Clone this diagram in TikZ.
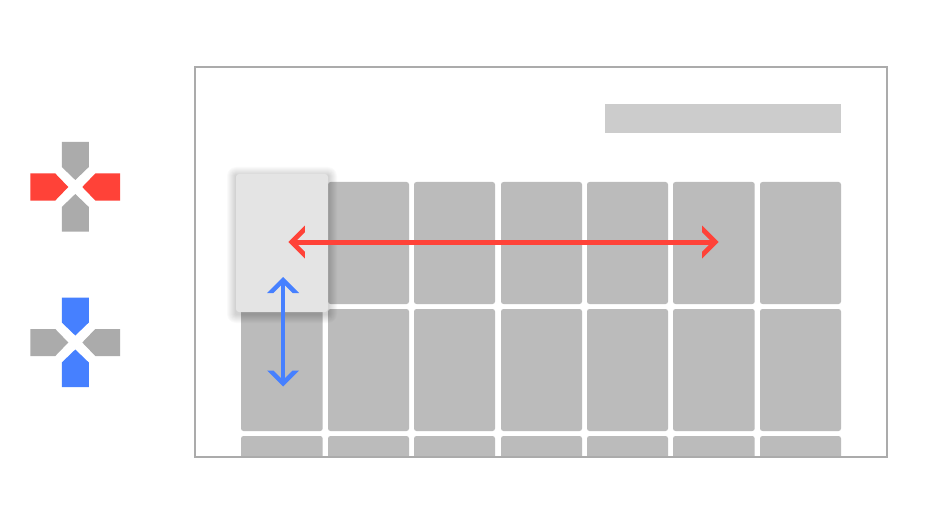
\documentclass[tikz,border=0pt]{standalone}
\definecolor{cellgray}{HTML}{BBBBBB}
\definecolor{bargray}{HTML}{CCCCCC}
\definecolor{framegray}{HTML}{ABABAB}
\definecolor{icongray}{HTML}{ABABAB}
\definecolor{cardgray}{HTML}{E4E4E4}
\definecolor{myred}{HTML}{FF4238}
\definecolor{myblue}{HTML}{4680FF}
\tikzset{
  cellbox/.style={fill=cellgray,rounded corners=2.5pt,inner sep=0pt,outer sep=0pt,anchor=north west,minimum height=122pt},
  redarrow/.style={draw=myred,line width=5pt},
  bluearrow/.style={draw=myblue,line width=4.8pt},
}
\newcommand{\dpad}[3]{%
  \begin{scope}[shift={(75.3,#1)}]
    \fill[#2] (-13.5,-45) -- (13.5,-45) -- (13.5,-20) -- (0,-7) -- (-13.5,-20) -- cycle;
    \fill[#2] (-13.5,44.5) -- (13.5,44.5) -- (13.5,20) -- (0,7) -- (-13.5,20) -- cycle;
    \fill[#3] (-45,-13.5) -- (-45,13.5) -- (-20,13.5) -- (-7,0) -- (-20,-13.5) -- cycle;
    \fill[#3] (44.7,-13.5) -- (44.7,13.5) -- (20,13.5) -- (7,0) -- (20,-13.5) -- cycle;
  \end{scope}}
% filled chevron head: #1 coordinate of the point, #2 rotation, #3 colour, #4 half span, #5 cut length
\newcommand{\chevron}[5]{%
  \fill[#3,shift={(#1)},rotate=#2] (0,0) -- (-#4,-#4) -- (-#4,-#4+#5) -- (-#5,0) -- (-#4,#4-#5) -- (-#4,#4) -- cycle;}
\begin{document}
\begin{tikzpicture}[x=1pt,y=-1pt]
\useasboundingbox (0,0) rectangle (940,532);
\fill[white] (0,0) rectangle (940,532);
% d-pad icons
\dpad{187}{icongray}{myred}
\dpad{342.5}{myblue}{icongray}
% top bar
\node[fill=bargray,inner sep=0pt,outer sep=0pt,anchor=north west,minimum width=236pt,minimum height=29pt] (bar) at (605.3,104) {};
% grid
\begin{scope}
  \clip (195,67.5) rectangle (887,456.5);
  \foreach \n/\x/\w in {a/241/81.7,b/328/81,c/414/81,d/501/81,e/587/81,f/673/81.7,g/760/81}{
    \node[cellbox,minimum width=\w pt] (\n1) at (\x,182) {};
    \node[cellbox,minimum width=\w pt] (\n2) at (\x,309) {};
    \node[cellbox,minimum width=\w pt] (\n3) at (\x,436) {};
  }
\end{scope}
% frame
\node[draw=framegray,line width=2pt,inner sep=0pt,outer sep=0pt,anchor=north west,minimum width=692pt,minimum height=389.5pt] (frame) at (195,67.5) {};
% floating card with soft shadow
\foreach \s in {9,8,...,1}{
  \fill[black,opacity=0.018,rounded corners=\s pt] (236-\s,174-\s+2) rectangle (328+\s,312+\s+2);
}
\node[fill=cardgray,rounded corners=3pt,inner sep=0pt,outer sep=0pt,anchor=north west,minimum width=92pt,minimum height=138pt] (card) at (236,174) {};
% arrow ends
\coordinate (rl) at (288.3,242);
\coordinate (rr) at (718.7,242);
\coordinate (bt) at (283,277);
\coordinate (bb) at (283,386.5);
\draw[redarrow,shorten <=6pt,shorten >=6pt] (rl) -- (rr);
\chevron{rl}{180}{myred}{16.5}{6.8}
\chevron{rr}{0}{myred}{16.5}{6.8}
\draw[bluearrow,shorten <=6pt,shorten >=6pt] (bt) -- (bb);
\chevron{bt}{90}{myblue}{16}{6.3}
\chevron{bb}{-90}{myblue}{16}{6.3}
\end{tikzpicture}
\end{document}
